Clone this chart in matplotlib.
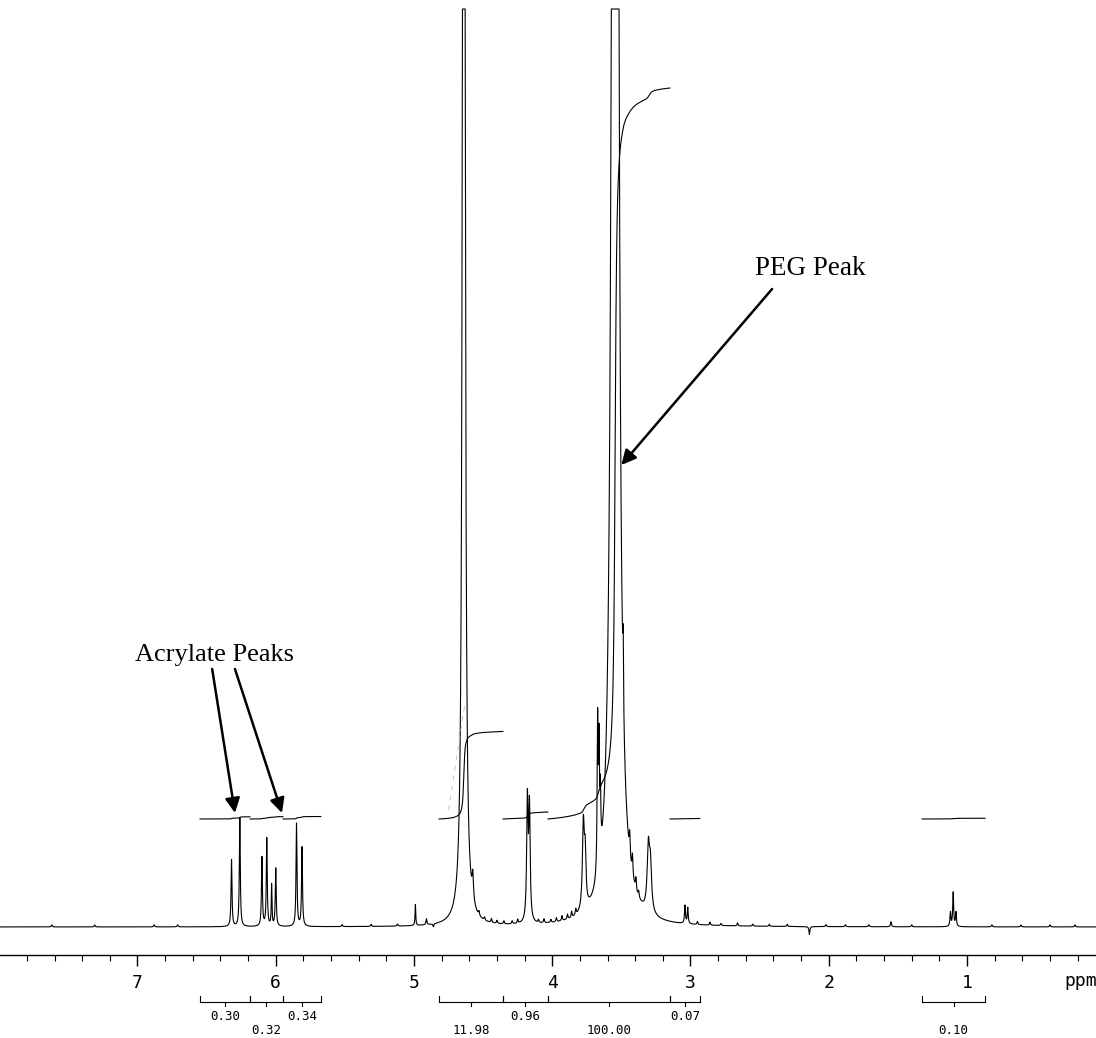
import numpy as np
import matplotlib
matplotlib.use("Agg")
import matplotlib.pyplot as plt
from matplotlib.transforms import blended_transform_factory

# ---------------- data ----------------
# peak positions (ppm), heights (px above baseline), half widths (ppm)
peak_ppm = [6.32, 6.26, 6.10, 6.065, 6.03, 6.00, 5.85, 5.81,
            4.99, 4.91, 4.64, 4.575, 4.18, 4.165,
            3.775, 3.762, 3.672, 3.662, 3.652,
            3.545, 3.487, 3.44, 3.42, 3.395, 3.375,
            3.305, 3.29, 3.04, 3.02, 2.14, 1.55, 1.12, 1.10, 1.08]
peak_height = [67, 109, 69, 88, 41, 58, 103, 79,
               21, 6, 3000, 25, 120, 112,
               85, 50, 150, 115, 60,
               10000, 65, 22, 20, 12, 6,
               62, 45, 18, 16, -8, 5, 14, 34, 14]
peak_hw = [0.004, 0.004, 0.004, 0.004, 0.003, 0.004, 0.004, 0.004,
           0.003, 0.004, 0.0067, 0.006, 0.006, 0.006,
           0.008, 0.007, 0.004, 0.004, 0.004,
           0.009, 0.003, 0.004, 0.004, 0.004, 0.004,
           0.010, 0.010, 0.004, 0.004, 0.004, 0.004, 0.004, 0.004, 0.004]

# small baseline "grass" lines visible in the reference
grass_ppm = [7.62, 7.31, 6.88, 6.71, 5.52, 5.31, 5.12, 4.86, 4.53, 4.49, 4.44,
             4.40, 4.35, 4.29, 4.25, 4.10, 4.06, 4.01, 3.97, 3.93, 3.89, 3.86,
             3.83, 2.95, 2.86, 2.78, 2.66, 2.55, 2.43, 2.30, 2.02, 1.88, 1.71,
             1.40, 0.82, 0.61, 0.40, 0.22]
grass_height = [2, 2, 2, 2, 2, 2, 2, -3, 4, 3, 4, 3, 3, 3, 4, 3, 4, 3, 4, 5,
                5, 6, 6, 3, 3, 2, 3, 2, 2, 2, 2, 2, 2, 2, 2, 2, 2, 2]

# integration regions (ppm), values and label rows
int_start = [6.548, 6.186, 5.948, 4.819, 4.356, 4.031, 3.148, 1.325]
int_end = [6.186, 5.948, 5.673, 4.356, 4.031, 3.148, 2.932, 0.869]
int_value = [0.30, 0.32, 0.34, 11.98, 0.96, 100.00, 0.07, 0.10]
int_row = [0, 1, 0, 1, 0, 1, 0, 1]

tick_major = [1, 2, 3, 4, 5, 6, 7]

# ---------------- figure ----------------
W, H = 1096, 1038
fig = plt.figure(figsize=(W / 100, H / 100), dpi=100)
axis_y = 955     # pixel row of the ppm axis line
top_y = 8        # pixel row of the top of the plotting window
base_y = 927     # pixel row of the spectrum baseline
ax = fig.add_axes([0, (H - axis_y) / H, 1, (axis_y - top_y) / H])
ymin = -(axis_y - base_y)
ymax = ymin + (axis_y - top_y)
ax.set_ylim(ymin, ymax)
ppm_left = 7 + 137.5 / 138.25
ppm_right = 7 - (W - 137.5) / 138.25
ax.set_xlim(ppm_left, ppm_right)

x = np.linspace(8.1, 0.0, 24000)
spec = np.zeros_like(x)
for p, h, w in zip(peak_ppm, peak_height, peak_hw):
    spec += h / (1 + ((x - p) / w) ** 2)
for p, h in zip(grass_ppm, grass_height):
    spec += h / (1 + ((x - p) / 0.004) ** 2)
spec_draw = np.minimum(spec, ymax - 1.0)
ax.plot(x, spec_draw, color="black", lw=0.8)

# integral curves
int_offset = 108
int_scale = 7.31  # px per integral unit
for s, e, v in zip(int_start, int_end, int_value):
    m = (x <= s) & (x >= e)
    xs = x[m]
    c = np.cumsum(np.clip(spec[m], 0, None))
    c = c / c[-1]
    ax.plot(xs[1:-1], int_offset + int_scale * v * c[1:-1], color="black", lw=0.8)

# faint scan artefact near 4.8 ppm
ax.plot([4.75, 4.63], [117, 225], color="#bbbbbb", lw=0.6, ls=(0, (6, 6)))

# axis styling
for sp in ["top", "left", "right"]:
    ax.spines[sp].set_visible(False)
ax.spines["bottom"].set_linewidth(1.0)
ax.set_yticks([])
ax.set_xticks(tick_major)
ax.set_xticklabels([str(t) for t in tick_major], family="DejaVu Sans Mono", fontsize=13)
ax.set_xticks(np.arange(0.2, 8.0, 0.2), minor=True)
ax.tick_params(axis="x", which="major", direction="out", length=8, width=1.0, pad=6)
ax.tick_params(axis="x", which="minor", direction="out", length=4, width=0.8)
fig.text(1081 / W, 1 - 981 / H, "ppm", family="DejaVu Sans Mono", fontsize=13,
         ha="center", va="center")

# integral brackets under the axis
tr = blended_transform_factory(ax.transData, fig.transFigure)
by = 1 - 1002 / H
up = 6 / H
dn = 4 / H
for s, e, v, r in zip(int_start, int_end, int_value, int_row):
    ax.plot([s, e], [by, by], color="black", lw=0.8, transform=tr, clip_on=False)
    for xe in (s, e):
        ax.plot([xe, xe], [by, by + up], color="black", lw=0.8, transform=tr, clip_on=False)
    xc = 0.5 * (s + e)
    ax.plot([xc, xc], [by, by - dn], color="black", lw=0.8, transform=tr, clip_on=False)
    ly = 1 - (1017 if r == 0 else 1031) / H
    ax.text(xc, ly, f"{v:.2f}", transform=tr, ha="center", va="center",
            family="DejaVu Sans Mono", fontsize=9)

# annotations
arrow_kw = dict(arrowstyle="-|>", color="black", lw=1.8, mutation_scale=22,
                shrinkA=0, shrinkB=0)
ax.text(6.44, 272, "Acrylate Peaks", family="Liberation Serif", fontsize=19,
        ha="center", va="center")
ax.annotate("", xy=(6.295, 114), xytext=(6.46, 258), arrowprops=arrow_kw)
ax.annotate("", xy=(5.955, 114), xytext=(6.295, 258), arrowprops=arrow_kw)
ax.text(2.136, 659, "PEG Peak", family="Liberation Serif", fontsize=19.5,
        ha="center", va="center")
ax.annotate("", xy=(3.50, 462), xytext=(2.41, 638), arrowprops=arrow_kw)

fig.savefig("out.png", dpi=100)
